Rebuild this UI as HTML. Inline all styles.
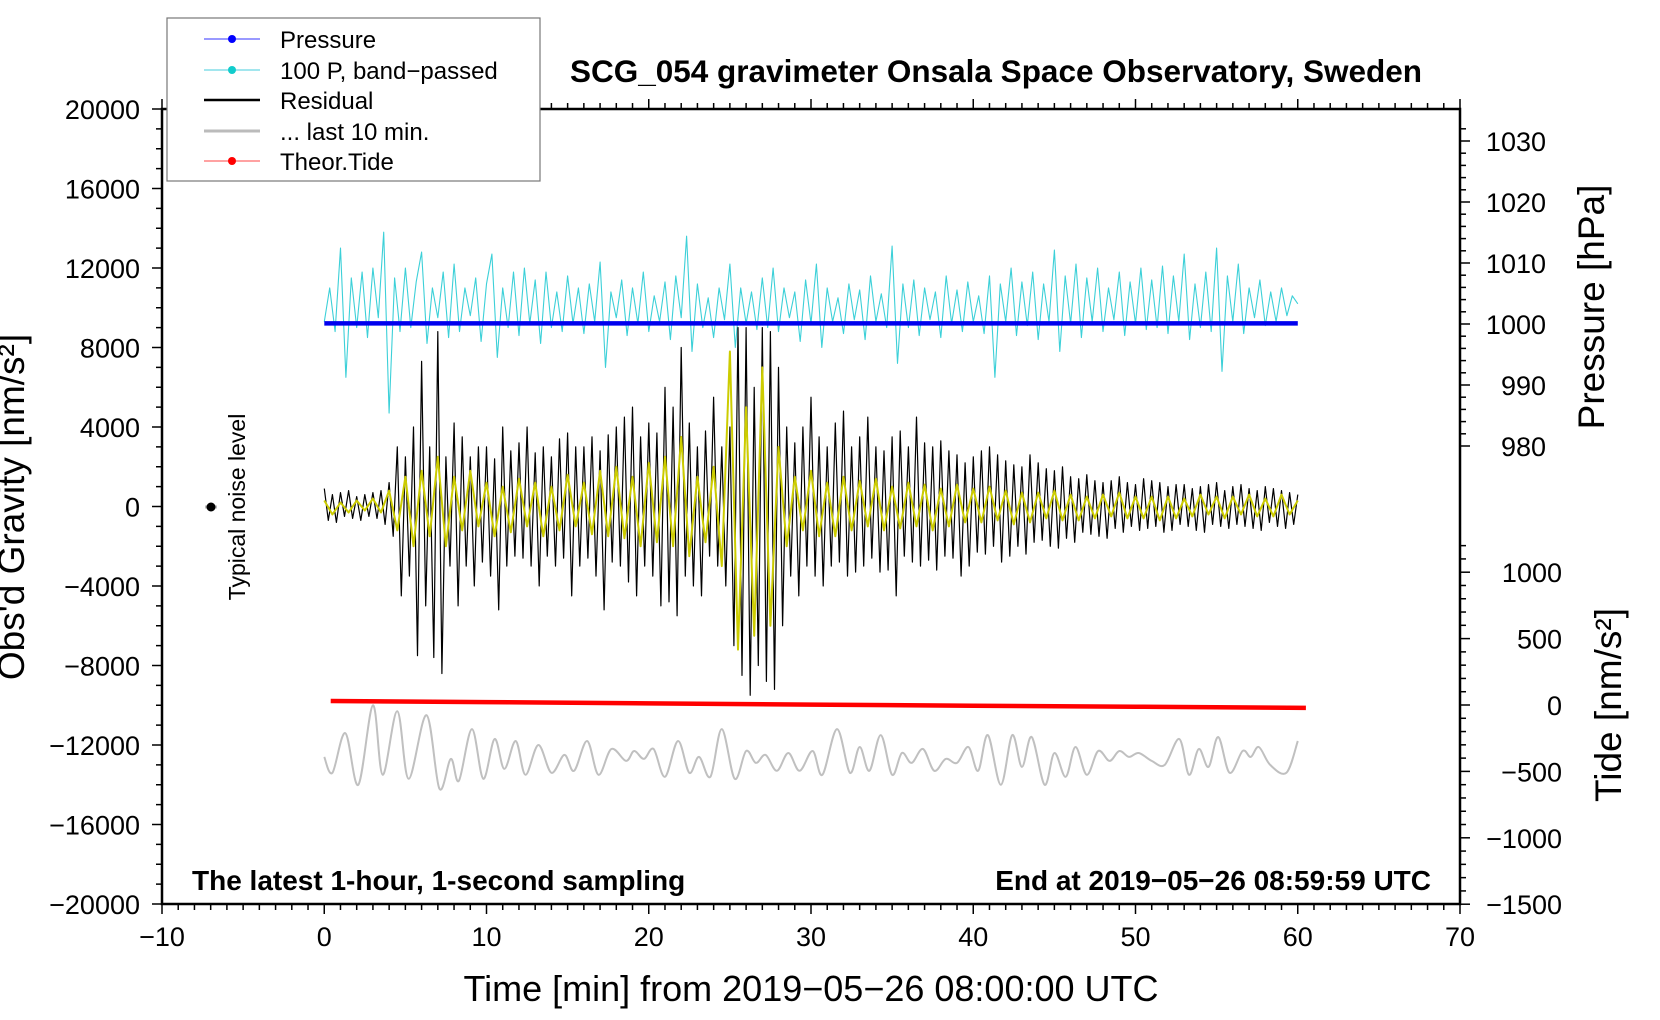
<!DOCTYPE html>
<html><head><meta charset="utf-8"><style>
html,body{margin:0;padding:0;background:#fff;}
svg{display:block;font-family:"Liberation Sans",sans-serif;}
</style></head><body>
<svg id="chart" width="1660" height="1020" viewBox="0 0 1660 1020">
<g id="marks"></g><g id="axes"></g>
<text x="996" y="82" text-anchor="middle" font-size="31.5" font-weight="bold">SCG_054 gravimeter Onsala Space Observatory, Sweden</text>
<text x="192" y="890" font-size="28" font-weight="bold">The latest 1-hour, 1-second sampling</text>
<text x="1431" y="890" text-anchor="end" font-size="28" font-weight="bold">End at 2019−05−26 08:59:59 UTC</text>
<text x="811" y="1001" text-anchor="middle" font-size="36">Time [min] from 2019−05−26 08:00:00 UTC</text>
<text transform="translate(24,507) rotate(-90)" text-anchor="middle" font-size="37">Obs'd Gravity [nm/s²]</text>
<text transform="translate(1604,307) rotate(-90)" text-anchor="middle" font-size="37">Pressure [hPa]</text>
<text transform="translate(1621,705) rotate(-90)" text-anchor="middle" font-size="37">Tide [nm/s²]</text>
<text transform="translate(245,507) rotate(-90)" text-anchor="middle" font-size="23">Typical noise level</text>
<line x1="205" y1="507" x2="217" y2="507" stroke="#bbb" stroke-width="3"/>
<circle cx="211" cy="507" r="4.5" fill="#000"/>
<g>
<rect x="167" y="18" width="373" height="163" fill="#fff" stroke="#777" stroke-width="1.2"/>
<g><line x1="204" y1="39" x2="260" y2="39" stroke="#33f" stroke-width="1"/><circle cx="232" cy="39" r="4" fill="#00f"/><text x="280" y="48" font-size="24">Pressure</text></g>
<g><line x1="204" y1="70" x2="260" y2="70" stroke="#4cd" stroke-width="1"/><circle cx="232" cy="70" r="4" fill="#1cc"/><text x="280" y="79" font-size="24">100 P, band−passed</text></g>
<g><line x1="204" y1="100" x2="260" y2="100" stroke="#000" stroke-width="2.5"/><text x="280" y="109" font-size="24">Residual</text></g>
<g><line x1="204" y1="131" x2="260" y2="131" stroke="#bbb" stroke-width="3"/><text x="280" y="140" font-size="24">... last 10 min.</text></g>
<g><line x1="204" y1="161" x2="260" y2="161" stroke="#f44" stroke-width="1"/><circle cx="232" cy="161" r="4" fill="#f00"/><text x="280" y="170" font-size="24">Theor.Tide</text></g>
</g>
</svg>
<script>
const residual=[900,-700,600,-800,700,-500,800,-600,500,-700,600,-500,700,-600,800,-900,
1200,-1500,3000,-4500,2500,-3500,4000,-7500,7300,-5000,3000,-7600,8800,-8400,2500,-3000,
4200,-5000,3500,-3000,2500,-4000,3000,-2800,3000,-3500,2400,-5200,4000,-3000,2800,-2500,
3200,-2600,4000,-3000,2700,-4000,3000,-2500,2500,-3000,3400,-2600,3700,-4500,3000,-3000,
3000,-2600,3500,-3500,2800,-5200,3600,-2800,4000,-3000,4500,-3800,5000,-4500,3500,-3000,
4200,-3500,3700,-5000,6000,-4800,5000,-5500,8000,-3500,4200,-4000,3000,-4500,3800,-2500,
5500,-3000,3000,-4000,4000,-7000,9000,-8500,9000,-9500,6000,-8000,9000,-8800,8800,-9200,
7000,-6000,4000,-3500,3200,-4500,4000,-3000,5500,-3500,3500,-4000,3000,-3000,4200,-2800,
4800,-3500,3000,-3300,3500,-3000,4500,-2600,3000,-3300,2800,-3200,3500,-4500,3800,-2500,
3000,-2800,4500,-3000,3200,-2700,3000,-3200,3300,-2500,2800,-2600,2600,-3500,2200,-3000,
2500,-2300,2800,-2400,3000,-2000,2600,-2800,2300,-2500,2100,-2000,2000,-2400,2600,-1800,
2200,-1700,1900,-2000,1800,-2100,2000,-1600,1500,-1800,1400,-1300,1600,-1400,1300,-1500,
1200,-1600,1300,-1100,1500,-1300,1200,-1000,1100,-1200,1400,-1100,1300,-1000,1200,-1300,
1000,-1200,1100,-900,1100,-1000,900,-1200,1000,-1300,1100,-900,1200,-1000,800,-1100,
1000,-900,1100,-1000,900,-1100,800,-1200,1000,-800,900,-1000,800,-1100,700,-900,600];
const filtered=[300,-400,200,-300,300,-200,400,-300,800,-1200,1500,-2000,1800,-1500,2500,-2000,
1500,-1200,1800,-1000,1200,-1500,1000,-1300,1400,-1000,1200,-1500,1000,-1200,1600,-1000,
1200,-1400,1800,-1500,2000,-1600,1500,-2000,2200,-1800,2500,-2000,3500,-2500,1500,-1800,
2000,-3000,7800,-7200,5000,-6500,7000,-6000,3000,-2000,1500,-1200,1800,-1500,1200,-1500,
1500,-1200,1300,-1000,1400,-1200,1000,-1100,1200,-1000,1100,-1200,900,-1000,1100,-800,
900,-800,1000,-700,800,-900,700,-800,700,-600,800,-700,600,-700,500,-600,
600,-500,700,-600,500,-600,500,-700,500,-600,400,-500,600,-400,500,-600,
500,-400,600,-500,400,-500,600,-400,300];
const bandPassed=[9300,11000,8800,13000,6500,11500,9000,11800,8500,12000,9500,13800,4700,11500,8800,
12000,9000,11300,12800,8200,11000,9500,11800,8500,12200,8800,11000,9600,11500,8300,
11200,12700,7500,11000,9000,11800,8600,12000,9200,11400,8200,11800,9000,10800,8800,
11600,9200,11000,8700,11200,9300,12300,7000,10800,9500,11400,8600,11000,9200,11800,
8800,10600,9300,11300,8400,11600,9500,13600,7800,11200,9000,10500,8500,11000,9400,
12200,8000,11000,9200,10800,8900,11500,9000,12000,8800,11000,9500,10800,8300,11400,
9200,12200,8000,11000,9300,10500,8700,11200,9400,10900,8400,11600,9300,10700,9000,
13100,7200,11200,9000,11400,8600,11000,9400,10800,8500,11600,9200,10900,8800,11300,
9300,10600,8700,11600,6500,11200,9300,12000,8600,11300,9100,11800,8400,11200,9300,
12900,7800,11600,9200,12200,8500,11500,9300,12000,8800,11000,9400,11800,8600,11300,
9200,12000,8900,11400,9000,12100,8700,11600,9300,12700,8400,11200,9000,11800,8800,
13000,6800,11600,9300,12200,8700,11000,9500,11400,9100,10800,9300,11000,9600,10600,10200];
const last10T=[0,0.5,1.3,2.1,3.0,3.6,4.5,5.2,6.3,7.1,7.8,8.3,9.1,9.8,10.5,11.1,11.8,12.4,13.2,14.0,14.8,15.4,16.2,16.9,17.7,18.6,19.1,19.7,20.3,21.0,21.8,22.5,23.1,23.8,24.5,25.3,26.0,26.6,27.2,27.9,28.6,29.3,30.1,30.7,31.6,32.4,33.0,33.6,34.3,35.0,35.6,36.2,36.9,37.6,38.3,39.0,39.7,40.3,40.9,41.7,42.4,43.0,43.6,44.4,45.0,45.7,46.3,47.0,47.7,48.4,49.0,49.6,50.2,51.0,51.8,52.7,53.3,53.9,54.5,55.1,55.8,56.6,57.1,57.6,58.3,59.3,60];
const last10V=[-12600,-13400,-11400,-14000,-10000,-13500,-10300,-13700,-10500,-14200,-12700,-13800,-11200,-13700,-11700,-13200,-11800,-13500,-12000,-13400,-12500,-13300,-11800,-13500,-12200,-12800,-12300,-12700,-12200,-13600,-11800,-13400,-12600,-13600,-11200,-13700,-12300,-12900,-12500,-13300,-12400,-13300,-12300,-13500,-11200,-13400,-12100,-13300,-11500,-13500,-12400,-12900,-12200,-13300,-12700,-12900,-12100,-13300,-11500,-14000,-11500,-13100,-11600,-14000,-12400,-13600,-12100,-13500,-12300,-12800,-12300,-12600,-12400,-12800,-13000,-11700,-13500,-12200,-13100,-11600,-13400,-12300,-12600,-12100,-13000,-13400,-11800];
const tideT=[0.4,10,20,30,40,50,60.5];
const tideV=[30,22,12,3,-5,-13,-22];
const pressT=[0,15,30,45,60];
const pressV=[1000.1,1000.1,1000.1,1000.1,1000.1];
const xTicks=[-10,0,10,20,30,40,50,60,70];
const yTicks=[20000,16000,12000,8000,4000,0,-4000,-8000,-12000,-16000,-20000];
const pTicks=[980,990,1000,1010,1020,1030];
const tTicks=[1000,500,0,-500,-1000,-1500];

const L=162,R=1460,T=109,B=904;
const X=t=>L+(t+10)*(R-L)/80;
const Y=v=>T+(20000-v)*(B-T)/40000;
const YP=p=>324-(p-1000)*6.1;
const YT=v=>705-v*(332/2500);
const NS='http://www.w3.org/2000/svg';
const marks=document.getElementById('marks'),axes=document.getElementById('axes');
function mk(tag,attrs,parent){const e=document.createElementNS(NS,tag);for(const k in attrs)e.setAttribute(k,attrs[k]);parent.appendChild(e);return e;}
function poly(pts,stroke,w,name){const e=mk('polyline',{points:pts.map(p=>p[0].toFixed(1)+','+p[1].toFixed(1)).join(' '),fill:'none',stroke:stroke,'stroke-width':w,'stroke-linejoin':'round'},marks);

return e;}
function series(arr,step){return arr.map((v,i)=>[X(i*step),Y(v)]);}
poly(series(bandPassed,60/(bandPassed.length-1)),'#3cd0d8',1.1,'band-passed-pressure-line');
poly(pressT.map((t,i)=>[X(t),YP(pressV[i])]),'#0000ee',4.5,'pressure-line');
poly(series(residual,60/(residual.length-1)),'#000',1.2,'residual-line');
poly(series(filtered,60/(filtered.length-1)),'#cccc00',2,'residual-filtered-line');
poly(tideT.map((t,i)=>[X(t),YT(tideV[i])]),'#f00',4.5,'tide-line');
(function(){const P=last10T.map((t,i)=>[X(t),Y(last10V[i])]);let d='M'+P[0][0]+','+P[0][1];
for(let i=0;i<P.length-1;i++){const p0=P[Math.max(0,i-1)],p1=P[i],p2=P[i+1],p3=P[Math.min(P.length-1,i+2)];
const c1=[p1[0]+(p2[0]-p0[0])/6,p1[1]+(p2[1]-p0[1])/6],c2=[p2[0]-(p3[0]-p1[0])/6,p2[1]-(p3[1]-p1[1])/6];
d+=' C'+c1[0].toFixed(1)+','+c1[1].toFixed(1)+' '+c2[0].toFixed(1)+','+c2[1].toFixed(1)+' '+p2[0].toFixed(1)+','+p2[1].toFixed(1);}
const e=mk('path',{d:d,fill:'none',stroke:'#c0c0c0','stroke-width':2},marks);

})();
const fr=mk('path',{d:`M${L},${T}H${R}V${B}H${L}Z`,fill:'none',stroke:'#000','stroke-width':2.5},axes);


function ln(x1,y1,x2,y2,w){mk('line',{x1,y1,x2,y2,stroke:'#000','stroke-width':w},axes);}
function tx(x,y,s,anchor,name){const e=mk('text',{x,y,'font-size':27,'text-anchor':anchor},axes);e.textContent=s;

}
for(let t=-10;t<=70;t++){const maj=t%10===0;const x=X(t);ln(x,B,x,B+(maj?10:6),1.5);ln(x,T,x,T-(maj?10:6),1.5);}
xTicks.forEach(t=>tx(X(t),B+42,String(t).replace('-','−'),'middle','x-tick-label'));
for(let v=-20000;v<=20000;v+=1000){const maj=v%4000===0;ln(L,Y(v),L-(maj?10:6),Y(v),1.5);}
yTicks.forEach(v=>tx(L-22,Y(v)+10,String(v).replace('-','−'),'end','y-tick-label'));
for(let p=980;p<=1032;p+=2){const maj=p%10===0;ln(R,YP(p),R+(maj?10:6),YP(p),1.5);}
pTicks.forEach(p=>tx(R+86,YP(p)+10,String(p),'end','pressure-tick-label'));
for(let v=-1500;v<=1200;v+=100){const maj=v%500===0;ln(R,YT(v),R+(maj?10:6),YT(v),1.5);}
tTicks.forEach(v=>tx(R+102,YT(v)+10,String(v).replace('-','−'),'end','tide-tick-label'));
</script>
</body></html>
